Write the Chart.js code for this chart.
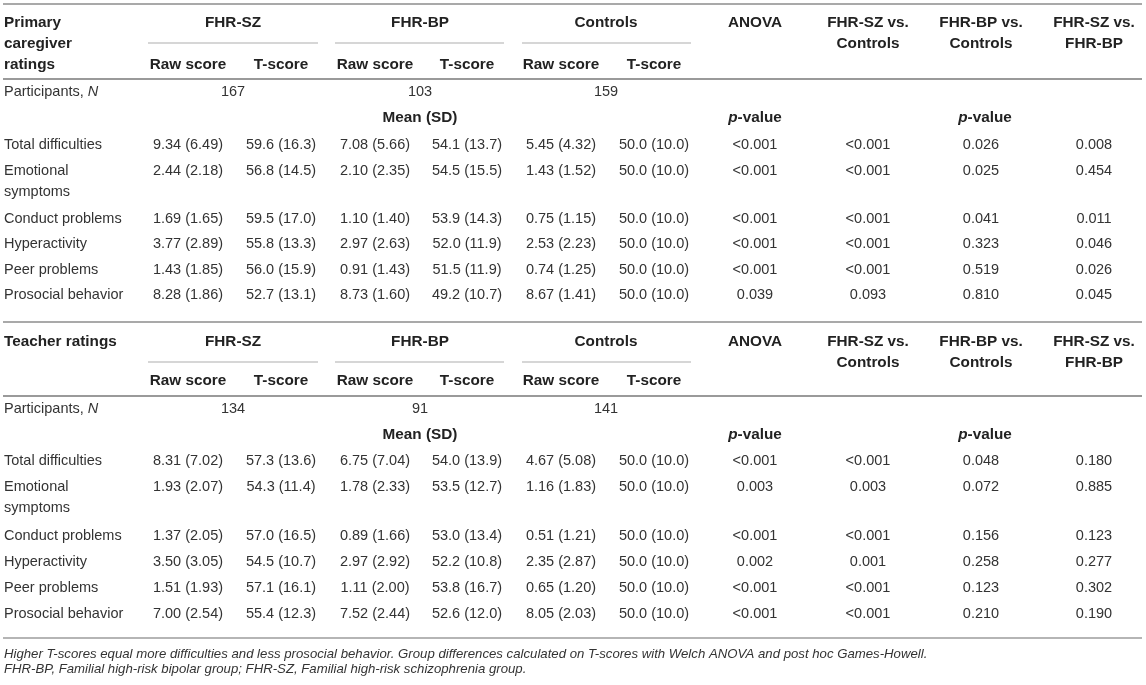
<!DOCTYPE html>
<html>
<head>
<meta charset="utf-8">
<script src="https://cdn.jsdelivr.net/npm/chart.js@4.4.1/dist/chart.umd.min.js"></script>
<style>
  html, body { margin: 0; padding: 0; background: #fff; }
  #wrap { width: 1146px; height: 685px; }
</style>
</head>
<body>
<div id="wrap"><canvas id="sdqTable" width="1146" height="685"></canvas></div>
<script>
// ---- table content ----
const groups = ['FHR-SZ', 'FHR-BP', 'Controls'];
const scoreTypes = ['Raw score', 'T-score'];
const tests = ['ANOVA', 'FHR-SZ vs.|Controls', 'FHR-BP vs.|Controls', 'FHR-SZ vs.|FHR-BP'];
const measures = ['Total difficulties', 'Emotional|symptoms', 'Conduct problems', 'Hyperactivity', 'Peer problems', 'Prosocial behavior'];

// primary caregiver ratings
const caregiverN = ['167', '103', '159'];
const caregiverSzRaw = ['9.34 (6.49)', '2.44 (2.18)', '1.69 (1.65)', '3.77 (2.89)', '1.43 (1.85)', '8.28 (1.86)'];
const caregiverSzT = ['59.6 (16.3)', '56.8 (14.5)', '59.5 (17.0)', '55.8 (13.3)', '56.0 (15.9)', '52.7 (13.1)'];
const caregiverBpRaw = ['7.08 (5.66)', '2.10 (2.35)', '1.10 (1.40)', '2.97 (2.63)', '0.91 (1.43)', '8.73 (1.60)'];
const caregiverBpT = ['54.1 (13.7)', '54.5 (15.5)', '53.9 (14.3)', '52.0 (11.9)', '51.5 (11.9)', '49.2 (10.7)'];
const caregiverCtrlRaw = ['5.45 (4.32)', '1.43 (1.52)', '0.75 (1.15)', '2.53 (2.23)', '0.74 (1.25)', '8.67 (1.41)'];
const caregiverCtrlT = ['50.0 (10.0)', '50.0 (10.0)', '50.0 (10.0)', '50.0 (10.0)', '50.0 (10.0)', '50.0 (10.0)'];
const caregiverAnova = ['<0.001', '<0.001', '<0.001', '<0.001', '<0.001', '0.039'];
const caregiverSzVsCtrl = ['<0.001', '<0.001', '<0.001', '<0.001', '<0.001', '0.093'];
const caregiverBpVsCtrl = ['0.026', '0.025', '0.041', '0.323', '0.519', '0.810'];
const caregiverSzVsBp = ['0.008', '0.454', '0.011', '0.046', '0.026', '0.045'];

// teacher ratings
const teacherN = ['134', '91', '141'];
const teacherSzRaw = ['8.31 (7.02)', '1.93 (2.07)', '1.37 (2.05)', '3.50 (3.05)', '1.51 (1.93)', '7.00 (2.54)'];
const teacherSzT = ['57.3 (13.6)', '54.3 (11.4)', '57.0 (16.5)', '54.5 (10.7)', '57.1 (16.1)', '55.4 (12.3)'];
const teacherBpRaw = ['6.75 (7.04)', '1.78 (2.33)', '0.89 (1.66)', '2.97 (2.92)', '1.11 (2.00)', '7.52 (2.44)'];
const teacherBpT = ['54.0 (13.9)', '53.5 (12.7)', '53.0 (13.4)', '52.2 (10.8)', '53.8 (16.7)', '52.6 (12.0)'];
const teacherCtrlRaw = ['4.67 (5.08)', '1.16 (1.83)', '0.51 (1.21)', '2.35 (2.87)', '0.65 (1.20)', '8.05 (2.03)'];
const teacherCtrlT = ['50.0 (10.0)', '50.0 (10.0)', '50.0 (10.0)', '50.0 (10.0)', '50.0 (10.0)', '50.0 (10.0)'];
const teacherAnova = ['<0.001', '0.003', '<0.001', '0.002', '<0.001', '<0.001'];
const teacherSzVsCtrl = ['<0.001', '0.003', '<0.001', '0.001', '<0.001', '<0.001'];
const teacherBpVsCtrl = ['0.048', '0.072', '0.156', '0.258', '0.123', '0.210'];
const teacherSzVsBp = ['0.180', '0.885', '0.123', '0.277', '0.302', '0.190'];

const footnotes = [
    'Higher T-scores equal more difficulties and less prosocial behavior. Group differences calculated on T-scores with Welch ANOVA and post hoc Games-Howell.',
    'FHR-BP, Familial high-risk bipolar group; FHR-SZ, Familial high-risk schizophrenia group.'
];

// ---- layout (in scale units) ----
const colX = [188, 281, 375, 467, 561, 654, 755, 868, 981, 1094];
const groupX = [233, 420, 606];
const groupSpan = [[148, 318], [335, 504], [522, 691]];
const labelX = 4;
const tableLeft = 3, tableRight = 1142;

const blocks = [
    {
        title: ['Primary', 'caregiver', 'ratings'],
        n: caregiverN,
        cols: [caregiverSzRaw, caregiverSzT, caregiverBpRaw, caregiverBpT, caregiverCtrlRaw, caregiverCtrlT,
               caregiverAnova, caregiverSzVsCtrl, caregiverBpVsCtrl, caregiverSzVsBp],
        topRule: 4, head: [23, 44], scoreRow: 65, underline: 43, headRule: 79,
        nRow: 92, meanRow: 118, rows: [145, 171, 219, 244, 270, 295]
    },
    {
        title: ['Teacher ratings'],
        n: teacherN,
        cols: [teacherSzRaw, teacherSzT, teacherBpRaw, teacherBpT, teacherCtrlRaw, teacherCtrlT,
               teacherAnova, teacherSzVsCtrl, teacherBpVsCtrl, teacherSzVsBp],
        topRule: 322, head: [342, 363], scoreRow: 381, underline: 362, headRule: 396,
        nRow: 409, meanRow: 435, rows: [461, 487, 536, 562, 588, 614]
    }
];
const bottomRule = 638;
const footRows = [654, 669];

const FS = 14.5, FB = 15.3;
const FAMILY = '"Liberation Sans", Arial, Helvetica, sans-serif';
const fNormal = FS + 'px ' + FAMILY;
const fBold = 'bold ' + FB + 'px ' + FAMILY;
const fItalic = 'italic ' + FS + 'px ' + FAMILY;
const fBoldItalic = 'italic bold ' + FB + 'px ' + FAMILY;
const fFoot = 'italic 13.2px ' + FAMILY;

function drawRuns(ctx, runs, x, y, align, color) {
    let w = 0;
    runs.forEach(r => { ctx.font = r[1]; w += ctx.measureText(r[0]).width; });
    let cx = align === 'center' ? x - w / 2 : (align === 'right' ? x - w : x);
    ctx.textAlign = 'left';
    ctx.textBaseline = 'middle';
    ctx.fillStyle = color;
    runs.forEach(r => {
        ctx.font = r[1];
        ctx.fillText(r[0], cx, y);
        cx += ctx.measureText(r[0]).width;
    });
}

const tablePlugin = {
    id: 'tablePlugin',
    afterDraw(chart) {
        const ctx = chart.ctx;
        const sx = chart.scales.x, sy = chart.scales.y;
        const X = v => sx.getPixelForValue(v);
        const Y = v => sy.getPixelForValue(v);
        const txt = '#333333', head = '#222222';

        function rule(x0, x1, y, color, width) {
            ctx.save();
            ctx.strokeStyle = color;
            ctx.lineWidth = width;
            ctx.beginPath();
            ctx.moveTo(X(x0), Y(y));
            ctx.lineTo(X(x1), Y(y));
            ctx.stroke();
            ctx.restore();
        }

        blocks.forEach(b => {
            rule(tableLeft, tableRight, b.topRule, '#a9a9a9', 2);
            rule(tableLeft, tableRight, b.headRule, '#9a9a9a', 2);
            groupSpan.forEach(s => rule(s[0], s[1], b.underline, '#c8c8c8', 1.5));

            // header text
            b.title.forEach((t, i) => drawRuns(ctx, [[t, fBold]], X(labelX), Y(b.head[0] + i * 21), 'left', head));
            groups.forEach((g, i) => drawRuns(ctx, [[g, fBold]], X(groupX[i]), Y(b.head[0]), 'center', head));
            for (let i = 0; i < 6; i++) {
                drawRuns(ctx, [[scoreTypes[i % 2], fBold]], X(colX[i]), Y(b.scoreRow), 'center', head);
            }
            tests.forEach((t, i) => {
                t.split('|').forEach((line, j) =>
                    drawRuns(ctx, [[line, fBold]], X(colX[6 + i]), Y(b.head[j]), 'center', head));
            });

            // participants
            drawRuns(ctx, [['Participants, ', fNormal], ['N', fItalic]], X(labelX), Y(b.nRow), 'left', txt);
            b.n.forEach((n, i) => drawRuns(ctx, [[n, fNormal]], X(groupX[i]), Y(b.nRow), 'center', txt));

            // sub headers
            drawRuns(ctx, [['Mean (SD)', fBold]], X(groupX[1]), Y(b.meanRow), 'center', head);
            drawRuns(ctx, [['p', fBoldItalic], ['-value', fBold]], X(colX[6]), Y(b.meanRow), 'center', head);
            drawRuns(ctx, [['p', fBoldItalic], ['-value', fBold]], X(985), Y(b.meanRow), 'center', head);

            // body
            measures.forEach((m, r) => {
                const y = b.rows[r];
                m.split('|').forEach((line, j) =>
                    drawRuns(ctx, [[line, fNormal]], X(labelX), Y(y + j * 21), 'left', txt));
                b.cols.forEach((col, c) =>
                    drawRuns(ctx, [[col[r], fNormal]], X(colX[c]), Y(y), 'center', txt));
            });
        });

        rule(tableLeft, tableRight, bottomRule, '#b5b5b5', 2);
        footnotes.forEach((f, i) => drawRuns(ctx, [[f, fFoot]], X(labelX), Y(footRows[i]), 'left', txt));
    }
};

new Chart(document.getElementById('sdqTable').getContext('2d'), {
    type: 'scatter',
    data: { datasets: [{ data: [], pointRadius: 0 }] },
    options: {
        responsive: false,
        animation: false,
        events: [],
        layout: { padding: 0 },
        plugins: { legend: { display: false }, tooltip: { enabled: false } },
        scales: {
            x: { type: 'linear', min: 0, max: 1146, display: false },
            y: { type: 'linear', min: 0, max: 685, reverse: true, display: false }
        }
    },
    plugins: [tablePlugin]
});
</script>
</body>
</html>
